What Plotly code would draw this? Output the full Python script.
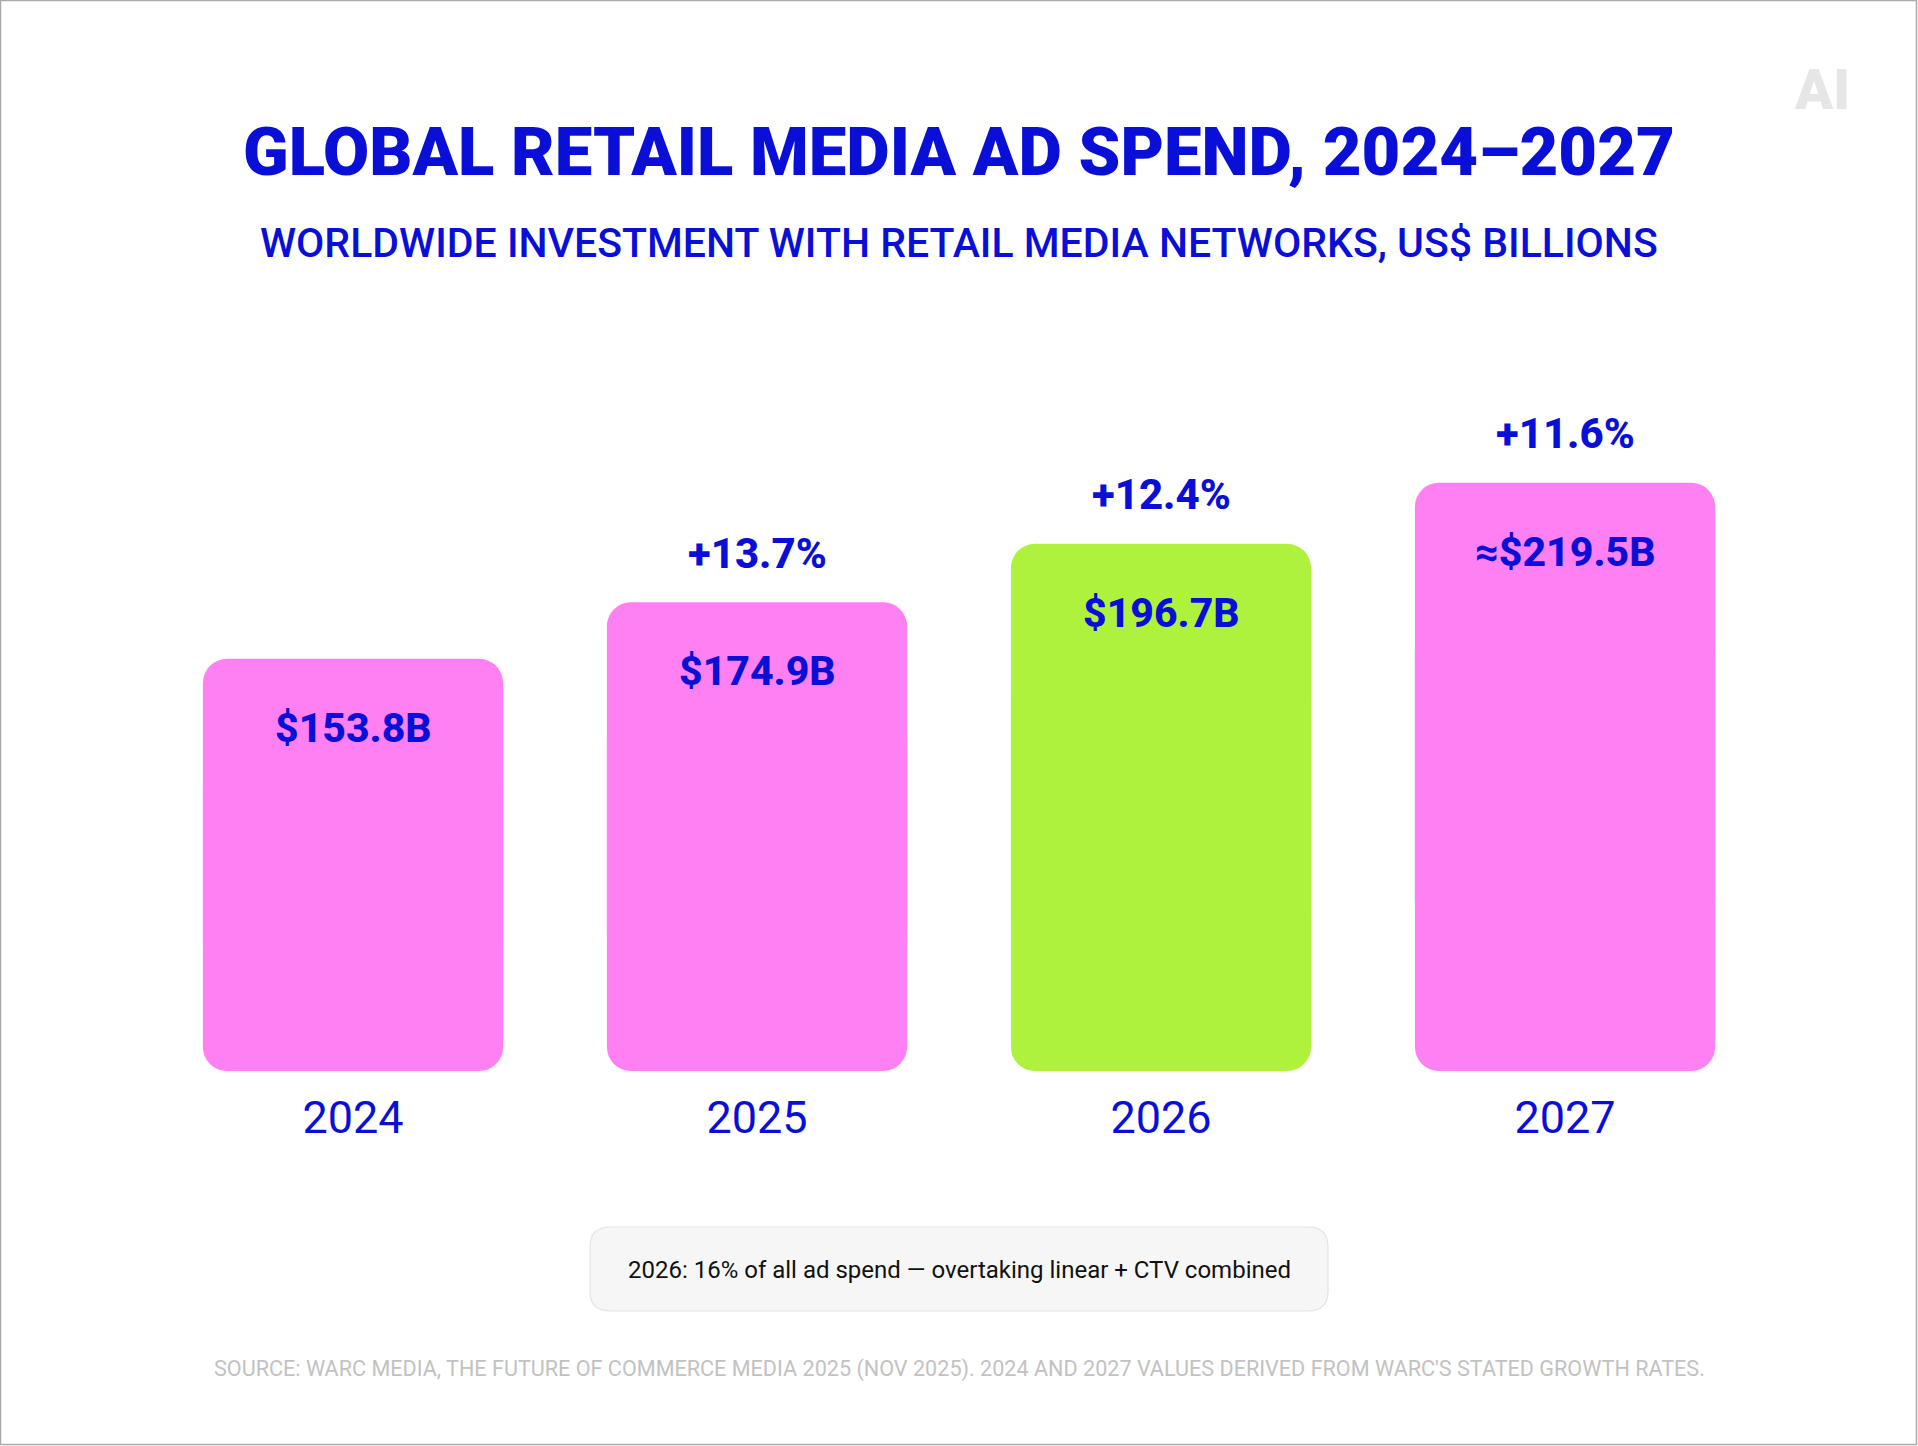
import plotly.graph_objects as go

# ---------------- data ----------------
years = ["2024", "2025", "2026", "2027"]
spend_bn = [153.8, 174.9, 196.7, 219.5]
value_prefix = ["", "", "", "≈"]
growth_labels = ["", "+13.7%", "+12.4%", "+11.6%"]
highlight_year = "2026"

title_text = "GLOBAL RETAIL MEDIA AD SPEND, 2024–2027"
subtitle_text = "WORLDWIDE INVESTMENT WITH RETAIL MEDIA NETWORKS, US$ BILLIONS"
note_text = "2026: 16% of all ad spend — overtaking linear + CTV combined"
source_text = ("SOURCE: WARC MEDIA, THE FUTURE OF COMMERCE MEDIA 2025 (NOV 2025). "
               "2024 AND 2027 VALUES DERIVED FROM WARC'S STATED GROWTH RATES.")

# ---------------- style ----------------
W, H = 1918, 1446
ML, MR, MT, MB = 151, 151, 401, 375
PW, PH = W - ML - MR, H - MT - MB
BLUE = "#0a0fd8"
PINK = "#ff80f3"
GREEN = "#aef23e"
SANS = "Roboto, Inter, Arial, sans-serif"

bar_colors = [GREEN if y == highlight_year else PINK for y in years]
positions = list(range(len(years)))


def px_x(px):
    return (px - ML) / PW


def px_y(py):
    return (H - MB - py) / PH


fig = go.Figure()

# bars drawn as two overlapping halves so both ends get rounded corners
fig.add_trace(go.Bar(
    x=years, y=[v * 0.75 for v in spend_bn], base=[v * 0.25 for v in spend_bn],
    marker=dict(color=bar_colors, line=dict(width=0), cornerradius=24),
    hoverinfo="skip", showlegend=False))
fig.add_trace(go.Bar(
    x=years, y=[-v * 0.75 for v in spend_bn], base=[v * 0.75 for v in spend_bn],
    marker=dict(color=bar_colors, line=dict(width=0), cornerradius=24),
    hoverinfo="skip", showlegend=False))

annotations = []
for i, v, pre, g in zip(positions, spend_bn, value_prefix, growth_labels):
    annotations.append(dict(
        x=i, y=v, xref="x", yref="y", text=f"{pre}${v:.1f}B", showarrow=False,
        yshift=-69, yanchor="middle", xanchor="center",
        font=dict(family=SANS, size=41, color=BLUE, weight=800)))
    if g:
        annotations.append(dict(
            x=i, y=v, xref="x", yref="y", text=g, showarrow=False,
            yshift=49, yanchor="middle", xanchor="center",
            font=dict(family=SANS, size=42, color=BLUE, weight=800)))

annotations += [
    dict(x=0.5, y=px_y(152), xref="paper", yref="paper", text=title_text,
         showarrow=False, xanchor="center", yanchor="middle",
         font=dict(family=SANS, size=67, color=BLUE, weight=900)),
    dict(x=0.5, y=px_y(243), xref="paper", yref="paper", text=subtitle_text,
         showarrow=False, xanchor="center", yanchor="middle",
         font=dict(family=SANS, size=41, color=BLUE, weight=500)),
    dict(x=px_x(959), y=px_y(1270), xref="paper", yref="paper", text=note_text,
         showarrow=False, xanchor="center", yanchor="middle",
         font=dict(family=SANS, size=24, color="#111111")),
    dict(x=px_x(959), y=px_y(1369), xref="paper", yref="paper", text=source_text,
         showarrow=False, xanchor="center", yanchor="middle",
         font=dict(family=SANS, size=21.6, color="#c2c2c2")),
    dict(x=px_x(1822), y=px_y(90), xref="paper", yref="paper", text="AI",
         showarrow=False, xanchor="center", yanchor="middle",
         font=dict(family=SANS, size=56, color="#e6e6e6", weight=900)),
]


def rounded_rect(x0, y0, x1, y1, r):
    # pixel coords -> paper path with rounded corners
    X = lambda p: f"{px_x(p):.5f}"
    Y = lambda p: f"{px_y(p):.5f}"
    return (f"M {X(x0 + r)},{Y(y0)} L {X(x1 - r)},{Y(y0)} Q {X(x1)},{Y(y0)} {X(x1)},{Y(y0 + r)} "
            f"L {X(x1)},{Y(y1 - r)} Q {X(x1)},{Y(y1)} {X(x1 - r)},{Y(y1)} "
            f"L {X(x0 + r)},{Y(y1)} Q {X(x0)},{Y(y1)} {X(x0)},{Y(y1 - r)} "
            f"L {X(x0)},{Y(y0 + r)} Q {X(x0)},{Y(y0)} {X(x0 + r)},{Y(y0)} Z")


shapes = [
    dict(type="path", xref="paper", yref="paper",
         path=rounded_rect(590, 1227, 1328, 1311, 20),
         fillcolor="#f6f6f6", line=dict(color="#e3e3e3", width=1.2), layer="below"),
    dict(type="rect", xref="paper", yref="paper",
         x0=px_x(0.5), x1=px_x(W - 1.5), y0=px_y(0.5), y1=px_y(H - 1.5),
         line=dict(color="#aaaaaa", width=1.5), fillcolor="rgba(0,0,0,0)"),
]

fig.update_layout(
    width=W, height=H,
    margin=dict(l=ML, r=MR, t=MT, b=MB, pad=0),
    paper_bgcolor="white", plot_bgcolor="white",
    barmode="overlay", bargap=0.257,
    annotations=annotations, shapes=shapes,
    xaxis=dict(type="category", range=[-0.5, 3.5], showgrid=False, zeroline=False,
               showline=False, ticks="", ticklabelstandoff=16,
               tickfont=dict(family=SANS, size=45, color=BLUE, weight=400)),
    yaxis=dict(range=[0, 250], visible=False, showgrid=False, zeroline=False),
)

fig.write_html("out.html", config={"displayModeBar": False},
               post_script="document.body.style.margin='0';document.body.style.overflow='hidden';")
